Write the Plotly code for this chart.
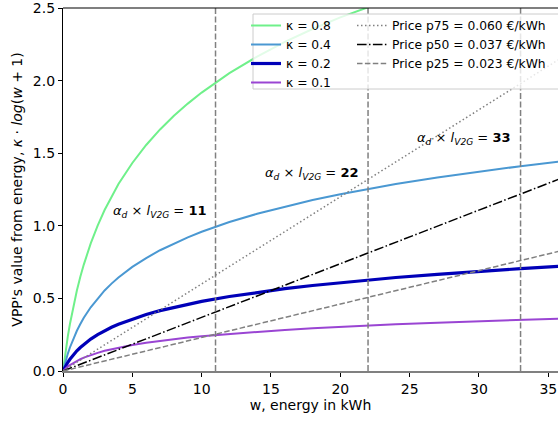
import plotly.graph_objects as go

# ---- data ----
w = [0, 0.1, 0.2, 0.35, 0.5, 0.75, 1, 1.25, 1.5, 2, 2.5, 3, 3.5, 4, 5, 6, 7, 8, 9, 10,
     12, 14, 16, 18, 20, 22, 24, 27, 30, 33, 36]
kappa_labels = ["κ = 0.8", "κ = 0.4", "κ = 0.2", "κ = 0.1"]
v_k08 = [0, 0.076, 0.146, 0.240, 0.324, 0.448, 0.555, 0.649, 0.733, 0.879, 1.002, 1.109, 1.203, 1.288,
         1.433, 1.557, 1.664, 1.758, 1.842, 1.918, 2.052, 2.166, 2.267, 2.356, 2.436, 2.508, 2.575,
         2.666, 2.747, 2.821, 2.889]
v_k04 = [0, 0.038, 0.073, 0.120, 0.162, 0.224, 0.277, 0.324, 0.367, 0.439, 0.501, 0.555, 0.602, 0.644,
         0.717, 0.778, 0.832, 0.879, 0.921, 0.959, 1.026, 1.083, 1.133, 1.178, 1.218, 1.254, 1.288,
         1.333, 1.374, 1.411, 1.444]
v_k02 = [0, 0.019, 0.036, 0.060, 0.081, 0.112, 0.139, 0.162, 0.183, 0.220, 0.251, 0.277, 0.301, 0.322,
         0.358, 0.389, 0.416, 0.439, 0.461, 0.480, 0.513, 0.542, 0.567, 0.589, 0.609, 0.627, 0.644,
         0.666, 0.687, 0.705, 0.722]
v_k01 = [0, 0.010, 0.018, 0.030, 0.041, 0.056, 0.069, 0.081, 0.092, 0.110, 0.125, 0.139, 0.150, 0.161,
         0.179, 0.195, 0.208, 0.220, 0.230, 0.240, 0.256, 0.271, 0.283, 0.294, 0.304, 0.314, 0.322,
         0.333, 0.343, 0.353, 0.361]

price_w = [0, 36]
price_labels = ["Price p75 = 0.060 €/kWh", "Price p50 = 0.037 €/kWh", "Price p25 = 0.023 €/kWh"]
v_p75 = [0, 2.16]
v_p50 = [0, 1.33]
v_p25 = [0, 0.83]

vline_w = [11, 22, 33]
vline_labels = ["11", "22", "33"]

x_ticks = [0, 5, 10, 15, 20, 25, 30, 35]
y_ticks = [0.0, 0.5, 1.0, 1.5, 2.0, 2.5]
y_ticklabels = ["0.0", "0.5", "1.0", "1.5", "2.0", "2.5"]

FONT = "DejaVu Sans"

fig = go.Figure()

kappa_series = [v_k08, v_k04, v_k02, v_k01]
kappa_colors = ["#6ff08a", "#4a98d2", "#0000b8", "#9a45d3"]
kappa_widths = [2, 2, 3.2, 2]
for lab, vals, col, lw in zip(kappa_labels, kappa_series, kappa_colors, kappa_widths):
    fig.add_trace(go.Scatter(x=w, y=vals, mode="lines", name=lab,
                             line=dict(color=col, width=lw),
                             legend="legend"))

price_series = [v_p75, v_p50, v_p25]
price_colors = ["#808080", "#000000", "#808080"]
price_dash = ["1.5px,2.5px", "9.6px,2.4px,1.5px,2.4px", "5.5px,2.4px"]
for lab, vals, col, dsh in zip(price_labels, price_series, price_colors, price_dash):
    fig.add_trace(go.Scatter(x=price_w, y=vals, mode="lines", name=lab,
                             line=dict(color=col, width=1.5, dash=dsh),
                             legend="legend2"))

for xv in vline_w:
    fig.add_vline(x=xv, line=dict(color="#808080", width=1.5, dash="6px,2.5px"))

ann_pos = [(6.95, 1.10), (17.9, 1.36), (28.85, 1.605)]
for (ax, ay), lab in zip(ann_pos, vline_labels):
    fig.add_annotation(x=ax, y=ay, xref="x", yref="y", showarrow=False,
                       text="<i>α</i><sub><i>d</i></sub> × <i>l</i><sub><i>V2G</i></sub> = <b>" + lab + "</b>",
                       font=dict(family=FONT, size=13, color="black"))

# legend frame (shared by both legend columns)
W, H = 558, 421
ml, mr, mt, mb = 63, 0, 8, 50
pw, ph = W - ml - mr, H - mt - mb
def px(xp):
    return (xp - ml) / pw
def py(yp):
    return 1 - (yp - mt) / ph

fig.add_shape(type="rect", xref="paper", yref="paper",
              x0=px(253), x1=px(570), y0=py(89), y1=py(14),
              fillcolor="rgba(255,255,255,0.8)", line=dict(color="#cccccc", width=1),
              layer="above")
# top spine
fig.add_shape(type="line", xref="paper", yref="paper", x0=0, x1=1, y0=1, y1=1,
              line=dict(color="black", width=1.2), layer="above")

fig.update_layout(
    width=W, height=H,
    margin=dict(l=ml, r=mr, t=mt, b=mb, autoexpand=False),
    paper_bgcolor="white", plot_bgcolor="white",
    font=dict(family=FONT, size=14, color="black"),
    xaxis=dict(range=[0, 35.7], tickvals=x_ticks, ticks="outside", ticklen=4,
               tickcolor="black", showgrid=False, zeroline=False, automargin=False,
               showline=True, linecolor="#808080", linewidth=2, ticklabeloverflow="allow",
               title=dict(text="w, energy in kWh", font=dict(size=14), standoff=4),
               tickfont=dict(size=14)),
    yaxis=dict(range=[0, 2.5005], tickvals=y_ticks, ticktext=y_ticklabels, ticks="outside",
               ticklen=4, tickcolor="black", showgrid=False, zeroline=False, automargin=False,
               showline=True, linecolor="black", linewidth=1.2, ticklabeloverflow="allow",
               title=dict(text="VPP's value from energy, <i>κ</i> · <i>log</i>(<i>w</i> + 1)",
                          font=dict(size=14), standoff=6),
               tickfont=dict(size=14)),
    legend=dict(x=px(246), y=py(11), xanchor="left", yanchor="top",
                bgcolor="rgba(0,0,0,0)", borderwidth=0,
                font=dict(family=FONT, size=12.3), tracegroupgap=0,
                itemwidth=30),
    legend2=dict(x=px(352), y=py(11), xanchor="left", yanchor="top",
                 bgcolor="rgba(0,0,0,0)", borderwidth=0,
                 font=dict(family=FONT, size=12.3), tracegroupgap=0,
                 itemwidth=30),
    showlegend=True,
)

fig.write_html("out.html", config={"displayModeBar": False},
               post_script="document.body.style.margin='0px';")
